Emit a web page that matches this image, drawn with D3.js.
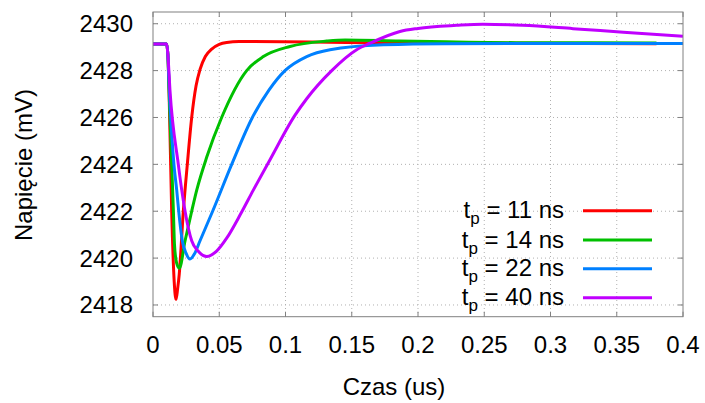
<html>
<head>
<meta charset="utf-8">
<script src="https://cdnjs.cloudflare.com/ajax/libs/d3/7.8.5/d3.min.js"></script>
<style>
  body { margin: 0; background: #fff; }
  text { font-family: "Liberation Sans", Arial, sans-serif; fill: #000; }
</style>
</head>
<body>
<div id="chart"></div>
<script>
// time (us) / voltage (mV)
var tRed = [0, 0.0103, 0.0112, 0.0121, 0.0141, 0.016, 0.0174, 0.0186, 0.0198, 0.0229, 0.0259, 0.0292, 0.0325, 0.0355, 0.0395, 0.0443, 0.05, 0.0556, 0.065, 0.12, 0.18, 0.38];
var vRed = [2429.14, 2429.14, 2428.7, 2427.17, 2422.0, 2419.0, 2418.24, 2418.7, 2419.31, 2422.0, 2424.0, 2426.0, 2427.35, 2428.05, 2428.6, 2428.92, 2429.12, 2429.2, 2429.24, 2429.22, 2429.18, 2429.15];

var tGreen = [0, 0.0103, 0.0112, 0.0121, 0.0141, 0.0154, 0.0162, 0.0178, 0.0199, 0.0242, 0.0292, 0.033, 0.0405, 0.0518, 0.0707, 0.0833, 0.1034, 0.131, 0.145, 0.186, 0.229, 0.274, 0.38];
var vGreen = [2429.14, 2429.14, 2428.7, 2427.17, 2424.0, 2422.0, 2420.6, 2419.8, 2419.57, 2420.74, 2422.0, 2422.9, 2424.3, 2426.0, 2428.0, 2428.6, 2429.03, 2429.26, 2429.31, 2429.26, 2429.22, 2429.19, 2429.18];

var tBlue = [0, 0.0103, 0.0112, 0.0123, 0.0158, 0.0179, 0.0194, 0.0221, 0.025, 0.0279, 0.0315, 0.0355, 0.045, 0.0594, 0.075, 0.0875, 0.0996, 0.116, 0.1336, 0.174, 0.22, 0.4];
var vBlue = [2429.14, 2429.14, 2428.7, 2427.2, 2424.0, 2422.9, 2422.0, 2420.74, 2420.2, 2419.96, 2420.2, 2420.74, 2422.0, 2424.0, 2426.0, 2427.17, 2428.0, 2428.6, 2428.89, 2429.1, 2429.15, 2429.16];

var tPurple = [0, 0.0103, 0.0112, 0.0128, 0.0191, 0.0217, 0.0242, 0.0292, 0.034, 0.0405, 0.048, 0.0556, 0.0663, 0.0757, 0.0883, 0.1072, 0.116, 0.1349, 0.1537, 0.1638, 0.1864, 0.2, 0.229, 0.249, 0.279, 0.317, 0.355, 0.4];
var vPurple = [2429.14, 2429.14, 2428.7, 2427.17, 2424.0, 2422.9, 2422.0, 2420.74, 2420.3, 2420.07, 2420.3, 2420.85, 2421.9, 2422.9, 2424.2, 2426.1, 2426.8, 2428.0, 2428.89, 2429.17, 2429.67, 2429.8, 2429.93, 2429.98, 2429.93, 2429.79, 2429.64, 2429.47];

var seriesNames = ["11", "14", "22", "40"];
var colors = ["#ff0000", "#00c000", "#0080ff", "#c000ff"];
var xTicks = [0, 0.05, 0.1, 0.15, 0.2, 0.25, 0.3, 0.35, 0.4];
var yTicks = [2418, 2420, 2422, 2424, 2426, 2428, 2430];

var W = 705, H = 403;
var L = 153, T = 12, R = 683, B = 316.7;

var svg = d3.select("#chart").append("svg").attr("width", W).attr("height", H);

var x = d3.scaleLinear().domain([0, 0.4]).range([L, R]);
var y = d3.scaleLinear().domain([2417.5, 2430.5]).range([B, T]);

// grid
svg.selectAll(".gx").data(xTicks.slice(1, -1)).enter().append("line")
  .attr("x1", function (d) { return x(d); }).attr("x2", function (d) { return x(d); })
  .attr("y1", T).attr("y2", B)
  .attr("stroke", "#b0b0b0").attr("stroke-width", 1).attr("stroke-dasharray", "1,3");
svg.selectAll(".gy").data(yTicks).enter().append("line")
  .attr("x1", L).attr("x2", R)
  .attr("y1", function (d) { return y(d); }).attr("y2", function (d) { return y(d); })
  .attr("stroke", "#b0b0b0").attr("stroke-width", 1).attr("stroke-dasharray", "1,3");

// tick marks on all four sides
var tl = 5;
xTicks.forEach(function (d) {
  svg.append("line").attr("x1", x(d)).attr("x2", x(d)).attr("y1", B).attr("y2", B - tl).attr("stroke", "#808080");
  svg.append("line").attr("x1", x(d)).attr("x2", x(d)).attr("y1", T).attr("y2", T + tl).attr("stroke", "#808080");
});
yTicks.forEach(function (d) {
  svg.append("line").attr("x1", L).attr("x2", L + tl).attr("y1", y(d)).attr("y2", y(d)).attr("stroke", "#808080");
  svg.append("line").attr("x1", R).attr("x2", R - tl).attr("y1", y(d)).attr("y2", y(d)).attr("stroke", "#808080");
});

// tick labels
svg.selectAll(".xl").data(xTicks).enter().append("text")
  .attr("x", function (d) { return x(d); }).attr("y", 353)
  .attr("text-anchor", "middle").style("font-size", "24px")
  .text(function (d) { return d3.format("")(d); });
svg.selectAll(".yl").data(yTicks).enter().append("text")
  .attr("x", 133).attr("y", function (d) { return y(d) + 8.5; })
  .attr("text-anchor", "end").style("font-size", "24px")
  .text(function (d) { return d; });

// axis titles
svg.append("text").attr("x", 394).attr("y", 395).attr("text-anchor", "middle")
  .style("font-size", "24px").text("Czas (us)");
svg.append("text").attr("transform", "translate(32,165) rotate(-90)").attr("text-anchor", "middle")
  .style("font-size", "24px").text("Napięcie (mV)");

// curves
var series = [[tRed, vRed], [tGreen, vGreen], [tBlue, vBlue], [tPurple, vPurple]];
var line = d3.line()
  .x(function (d) { return x(d[0]); })
  .y(function (d) { return y(d[1]); })
  .curve(d3.curveMonotoneX);

svg.append("clipPath").attr("id", "clip").append("rect")
  .attr("x", L).attr("y", T).attr("width", R - L).attr("height", B - T);

series.forEach(function (s, i) {
  var pts = s[0].map(function (t, k) { return [t, s[1][k]]; });
  svg.append("path").datum(pts)
    .attr("d", line)
    .attr("fill", "none")
    .attr("stroke", colors[i])
    .attr("stroke-width", 3)
    .attr("stroke-linejoin", "round")
    .attr("clip-path", "url(#clip)");
});

// border
svg.append("rect").attr("x", L).attr("y", T).attr("width", R - L).attr("height", B - T)
  .attr("fill", "none").attr("stroke", "#808080").attr("stroke-width", 1);

// legend
var legY = [210.7, 240, 268.7, 297.7];
seriesNames.forEach(function (n, i) {
  var t = svg.append("text").attr("x", 564).attr("y", legY[i] + 7.5)
    .attr("text-anchor", "end").style("font-size", "24px");
  t.append("tspan").text("t");
  t.append("tspan").attr("dy", 6).style("font-size", "17px").text("p");
  t.append("tspan").attr("dy", -6).text(" = " + n + " ns");
  svg.append("line").attr("x1", 583).attr("x2", 652).attr("y1", legY[i]).attr("y2", legY[i])
    .attr("stroke", colors[i]).attr("stroke-width", 3);
});
</script>
</body>
</html>
